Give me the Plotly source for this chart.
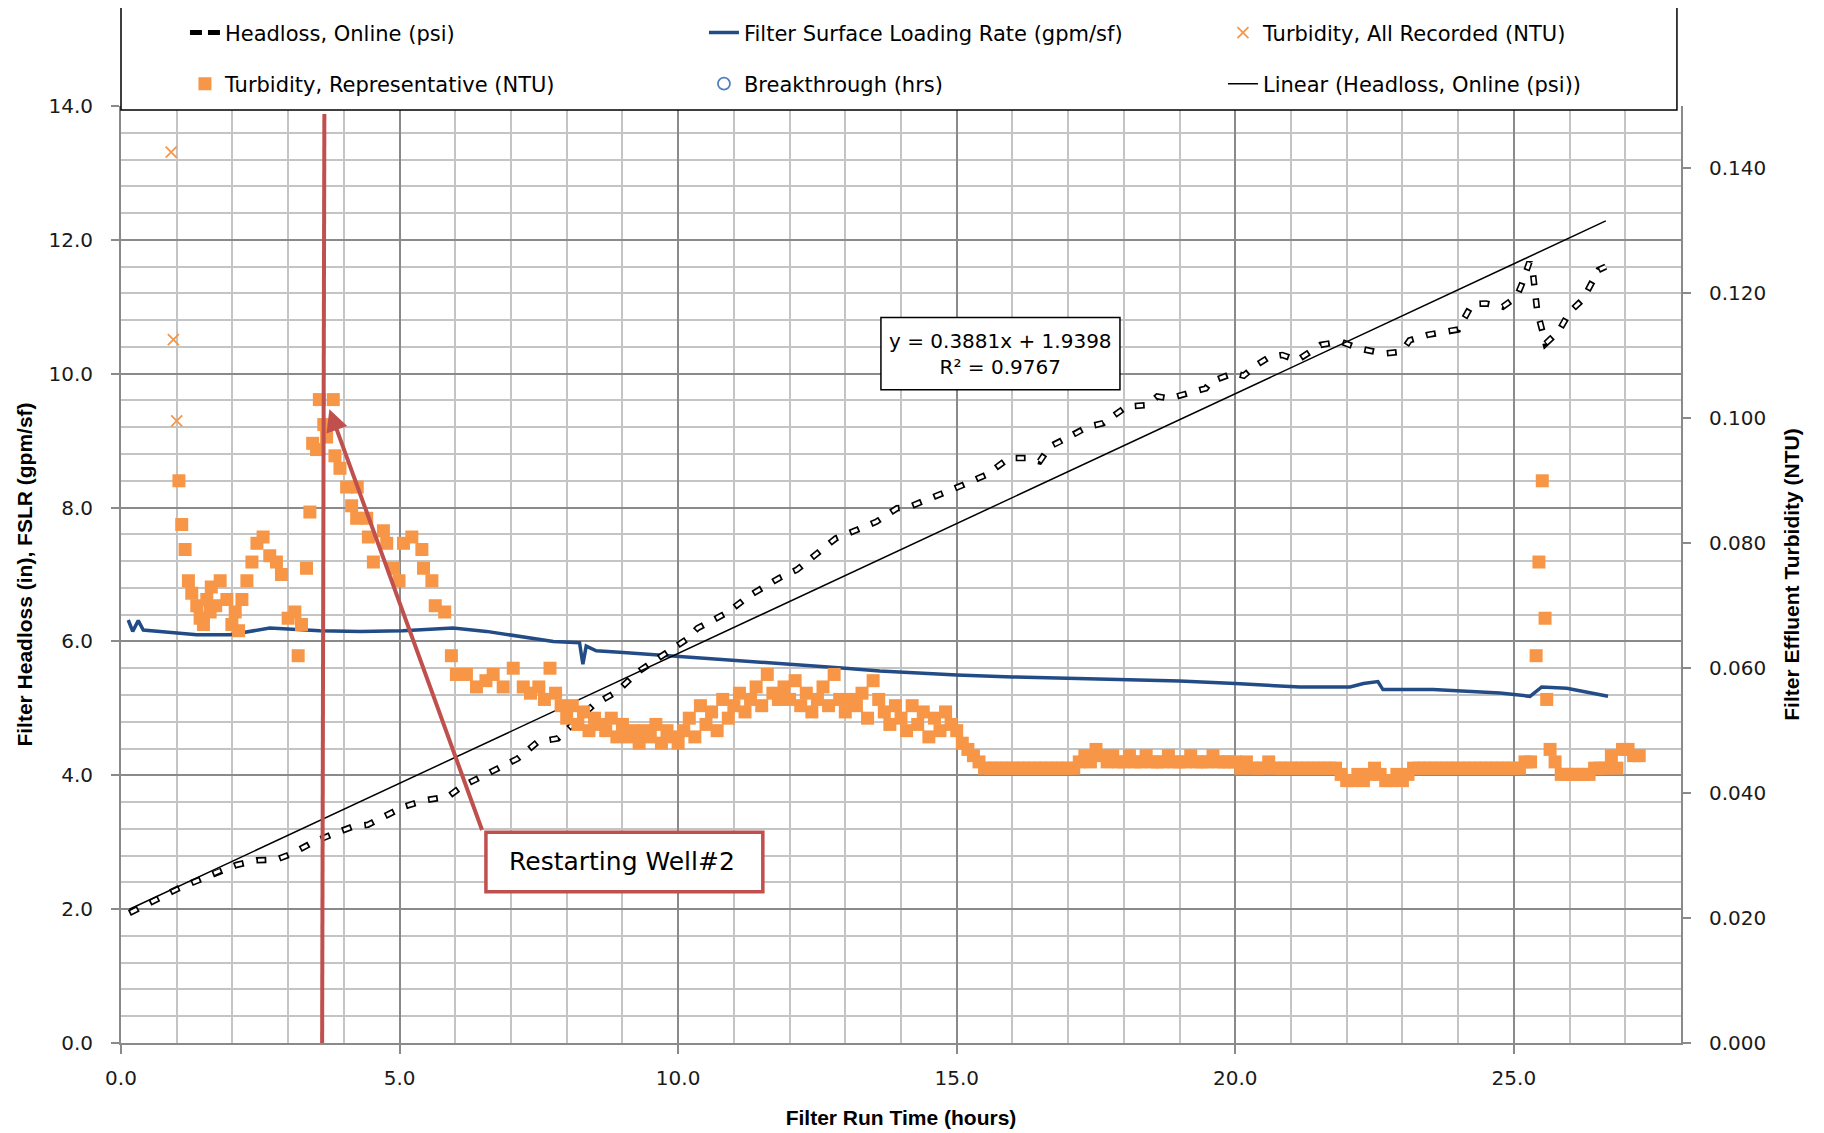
import plotly.graph_objects as go

# headloss (in) vs run time (h)
hl_hours = [0.15, 0.63, 1.03, 1.47, 1.79, 2.07, 2.43, 2.79, 3.07, 3.47, 3.83, 4.15, 4.43, 4.67,
            5.07, 5.47, 5.87, 6.11, 6.47, 6.79, 7.12, 7.48, 7.84, 8.48, 8.90, 9.27, 9.58, 9.83,
            10.15, 10.35, 10.88, 11.29, 11.82, 12.13, 12.42, 12.83, 13.19, 13.56, 13.93, 14.15,
            14.38, 14.75, 15.12, 15.53, 15.94, 16.26, 16.49, 16.67, 16.99, 17.36, 17.63, 18.05,
            18.41, 18.60, 18.82, 19.15, 19.47, 19.56, 19.97, 20.15, 20.38, 20.61, 20.84, 21.11,
            21.53, 21.89, 22.21, 22.44, 22.67, 22.99, 23.13, 23.45, 23.72, 24.00, 24.25, 24.50,
            24.80, 25.05, 25.14, 25.28, 25.34, 25.42, 25.57, 25.80, 26.01, 26.24, 26.52, 26.65]
hl_values = [1.94, 2.14, 2.31, 2.46, 2.58, 2.66, 2.73, 2.74, 2.83, 3.01, 3.13, 3.23, 3.26, 3.36,
             3.53, 3.63, 3.68, 3.83, 3.98, 4.10, 4.25, 4.50, 4.55, 5.05, 5.25, 5.54, 5.71, 5.85,
             6.03, 6.20, 6.43, 6.69, 6.95, 7.07, 7.27, 7.54, 7.66, 7.79, 7.99, 8.01,
             8.09, 8.21, 8.34, 8.49, 8.74, 8.74, 8.69, 8.91, 9.04, 9.21, 9.26, 9.51,
             9.53, 9.66, 9.63, 9.71, 9.78, 9.88, 10.01, 9.97, 10.13, 10.25, 10.28, 10.20,
             10.43, 10.48, 10.38, 10.34, 10.30, 10.33, 10.50, 10.58, 10.63, 10.66, 11.04, 11.05,
             11.00, 11.15, 11.33, 11.67, 11.52, 10.93, 10.45, 10.63, 10.93, 11.11, 11.55, 11.60]

# linear trendline of headloss (Excel)
trend_slope = 0.3881
trend_intercept = 1.9398
trend_r2 = 0.9767

# filter surface loading rate (gpm/sf)
fslr_hours = [0.13, 0.21, 0.31, 0.40, 0.8, 1.36, 1.96, 2.67, 3.57, 4.3, 5.06, 5.96, 6.56, 7.16,
              7.76, 8.23, 8.29, 8.35, 8.53, 8.95, 10.0, 11.0, 12.19, 13.0, 13.62, 15.0, 16.0,
              17.66, 19.0, 20.0, 21.16, 22.06, 22.30, 22.56, 22.65, 23.55, 24.75, 25.29, 25.50,
              25.95, 26.24, 26.69]
fslr_values = [6.32, 6.15, 6.31, 6.17, 6.14, 6.10, 6.10, 6.20, 6.16, 6.15, 6.16, 6.20, 6.15, 6.07,
               6.00, 5.98, 5.66, 5.93, 5.86, 5.84, 5.78, 5.72, 5.65, 5.60, 5.56, 5.50, 5.47,
               5.44, 5.41, 5.37, 5.32, 5.32, 5.37, 5.40, 5.28, 5.28, 5.23, 5.18, 5.32,
               5.30, 5.25, 5.18]

# turbidity, all recorded (NTU) - only the readings not covered by representative points
tall_hours = [0.90, 0.94, 1.00]
tall_ntu = [0.1426, 0.1126, 0.0996]

# turbidity, representative (NTU)
trep_hours = [
    1.04, 1.09, 1.15, 1.21, 1.27, 1.36, 1.42, 1.48, 1.54, 1.60, 1.62, 1.70, 1.78, 1.90, 1.99,
    2.05, 2.11, 2.17, 2.26, 2.35, 2.44, 2.55, 2.67, 2.79, 2.88, 3.00, 3.12, 3.18, 3.24, 3.33,
    3.39, 3.44, 3.51, 3.56, 3.64, 3.69, 3.81, 3.84, 3.93, 4.05, 4.14, 4.23, 4.24, 4.41, 4.44,
    4.53, 4.71, 4.77, 4.89, 4.99, 5.07, 5.22, 5.40, 5.43, 5.58, 5.64, 5.81, 5.93, 6.02, 6.20,
    6.38, 6.55, 6.68, 6.86, 7.04, 7.22, 7.35,
    7.5, 7.6, 7.7, 7.8, 7.9,
    8.0, 8.1, 8.2, 8.3, 8.4, 8.5, 8.6, 8.7, 8.8, 8.9,
    9.0, 9.1, 9.2, 9.3, 9.4, 9.5, 9.6, 9.7, 9.8, 9.9,
    10.0, 10.1, 10.2, 10.3, 10.4, 10.5, 10.6, 10.7, 10.8, 10.9,
    11.0, 11.1, 11.2, 11.3, 11.4, 11.5, 11.6, 11.7, 11.8, 11.9,
    12.0, 12.1, 12.2, 12.3, 12.4, 12.5, 12.6, 12.7, 12.8, 12.9,
    13.0, 13.1, 13.2, 13.3, 13.4, 13.5, 13.6, 13.7, 13.8, 13.9,
    14.0, 14.1, 14.2, 14.3, 14.4, 14.5, 14.6, 14.7, 14.8, 14.9,
    15.0, 15.1, 15.2, 15.3, 15.4, 15.5, 15.6, 15.7, 15.8, 15.9,
    16.0, 16.1, 16.2, 16.3, 16.4, 16.5, 16.6, 16.7, 16.8, 16.9,
    17.0, 17.1, 17.2, 17.3, 17.4, 17.5, 17.6, 17.7, 17.8, 17.9,
    18.0, 18.1, 18.2, 18.3, 18.4, 18.5, 18.6, 18.7, 18.8, 18.9,
    19.0, 19.1, 19.2, 19.3, 19.4, 19.5, 19.6, 19.7, 19.8, 19.9,
    20.0, 20.1, 20.2, 20.3, 20.4, 20.5, 20.6, 20.7, 20.8, 20.9,
    21.0, 21.1, 21.2, 21.3, 21.4, 21.5, 21.6, 21.7, 21.8, 21.9,
    22.0, 22.1, 22.2, 22.3, 22.4, 22.5, 22.6, 22.7, 22.8, 22.9,
    23.0, 23.1, 23.2, 23.3, 23.4, 23.5, 23.6, 23.7, 23.8, 23.9,
    24.0, 24.1, 24.2, 24.3, 24.4, 24.5, 24.6, 24.7, 24.8, 24.9,
    25.0, 25.1, 25.2, 25.3,
    25.40, 25.45, 25.51, 25.56, 25.59, 25.65, 25.74, 25.85, 25.95, 26.05, 26.15, 26.25,
    26.35, 26.45, 26.55, 26.65, 26.75, 26.85, 26.95, 27.05, 27.15, 27.25]
trep_ntu = [
    0.090, 0.083, 0.079, 0.074, 0.072, 0.070, 0.068, 0.067, 0.071, 0.069, 0.073, 0.070, 0.074, 0.071, 0.067,
    0.069, 0.066, 0.071, 0.074, 0.077, 0.080, 0.081, 0.078, 0.077, 0.075, 0.068, 0.069, 0.062, 0.067, 0.076,
    0.085, 0.096, 0.095, 0.103, 0.099, 0.097, 0.103, 0.094, 0.092, 0.089, 0.086, 0.084, 0.089, 0.084, 0.081,
    0.077, 0.082, 0.080, 0.076, 0.074, 0.080, 0.081, 0.079, 0.076, 0.074, 0.070, 0.069, 0.062, 0.059, 0.059,
    0.057, 0.058, 0.059, 0.057, 0.060, 0.057, 0.056,
    0.057, 0.055, 0.060, 0.056, 0.054,
    0.052, 0.054, 0.051, 0.053, 0.050, 0.052, 0.051, 0.050, 0.052, 0.049,
    0.051, 0.049, 0.050, 0.048, 0.050, 0.049, 0.051, 0.048, 0.050, 0.049,
    0.048, 0.050, 0.052, 0.049, 0.054, 0.051, 0.053, 0.050, 0.055, 0.052,
    0.054, 0.056, 0.053, 0.055, 0.057, 0.054, 0.059, 0.056, 0.055, 0.057,
    0.055, 0.058, 0.054, 0.056, 0.053, 0.055, 0.057, 0.054, 0.059, 0.055,
    0.053, 0.055, 0.054, 0.056, 0.052, 0.058, 0.055, 0.053, 0.051, 0.054,
    0.052, 0.050, 0.054, 0.051, 0.053, 0.049, 0.052, 0.050, 0.053, 0.051,
    0.050, 0.048, 0.047, 0.046, 0.045, 0.044, 0.044, 0.044, 0.044, 0.044,
    0.044, 0.044, 0.044, 0.044, 0.044, 0.044, 0.044, 0.044, 0.044, 0.044,
    0.044, 0.044, 0.045, 0.046, 0.045, 0.047, 0.046, 0.045, 0.046, 0.045,
    0.045, 0.046, 0.045, 0.045, 0.046, 0.045, 0.045, 0.045, 0.046, 0.045,
    0.045, 0.045, 0.046, 0.045, 0.045, 0.045, 0.046, 0.045, 0.045, 0.045,
    0.045, 0.044, 0.045, 0.044, 0.044, 0.044, 0.045, 0.044, 0.044, 0.044,
    0.044, 0.044, 0.044, 0.044, 0.044, 0.044, 0.044, 0.044, 0.044, 0.043,
    0.042, 0.042, 0.043, 0.042, 0.043, 0.044, 0.043, 0.042, 0.042, 0.043,
    0.042, 0.043, 0.044, 0.044, 0.044, 0.044, 0.044, 0.044, 0.044, 0.044,
    0.044, 0.044, 0.044, 0.044, 0.044, 0.044, 0.044, 0.044, 0.044, 0.044,
    0.044, 0.044, 0.045, 0.045,
    0.062, 0.077, 0.090, 0.068, 0.055, 0.047, 0.045, 0.043, 0.043, 0.043, 0.043, 0.043,
    0.043, 0.044, 0.044, 0.044, 0.046, 0.044, 0.047, 0.047, 0.046, 0.046]

# event marker: restarting well #2
restart_hour = 3.63

ORANGE = "#F79646"
RED = "#C0504D"
NAVY = "#234C86"
FONT = "DejaVu Sans"

fig = go.Figure()

# legend row 1
fig.add_trace(go.Scatter(x=[None], y=[None], mode="lines", name="Headloss, Online (psi)",
                         line=dict(color="black", width=5, dash="12px,6px"), legend="legend"))
fig.add_trace(go.Scatter(x=fslr_hours, y=fslr_values, mode="lines", name="Filter Surface Loading Rate (gpm/sf)",
                         line=dict(color=NAVY, width=3.5), legend="legend"))
fig.add_trace(go.Scatter(x=tall_hours, y=tall_ntu, mode="markers", yaxis="y2", name="Turbidity, All Recorded (NTU)",
                         marker=dict(symbol="x-thin", size=11, color=ORANGE, line=dict(color=ORANGE, width=1.8)),
                         legend="legend"))

# headloss drawn as outlined dashes
fig.add_trace(go.Scatter(x=hl_hours, y=hl_values, mode="lines", showlegend=False,
                         line=dict(color="black", width=6.5, dash="10px,13px")))
fig.add_trace(go.Scatter(x=hl_hours, y=hl_values, mode="lines", showlegend=False,
                         line=dict(color="white", width=3.2, dash="0px,1.7px,6.6px,14.7px")))

# legend row 2
fig.add_trace(go.Scatter(x=trep_hours, y=trep_ntu, mode="markers", yaxis="y2",
                         name="Turbidity, Representative (NTU)",
                         marker=dict(symbol="square", size=13, color=ORANGE), legend="legend2"))
fig.add_trace(go.Scatter(x=[None], y=[None], mode="markers", name="Breakthrough (hrs)",
                         marker=dict(symbol="circle-open", size=12, color="#4F81BD",
                                     line=dict(color="#4F81BD", width=1.8)),
                         legend="legend2"))
trend_x = [hl_hours[0], hl_hours[-1]]
trend_y = [trend_slope * v + trend_intercept for v in trend_x]
fig.add_trace(go.Scatter(x=trend_x, y=trend_y, mode="lines", name="Linear (Headloss, Online (psi))",
                         line=dict(color="black", width=1.5), legend="legend2"))

grid_minor = "#C4C4C4"
grid_major = "#8A8A8A"
tickfont = dict(family=FONT, size=20, color="#1a1a1a")
titlefont = dict(family="Liberation Sans", size=21, color="black", weight="bold")
legfont = dict(family=FONT, size=21, color="black")

# page body has an 8px offset, margins compensate
fig.update_layout(
    width=1824, height=1133,
    margin=dict(l=113, r=151, t=98, b=98, autoexpand=False),
    paper_bgcolor="white", plot_bgcolor="white",
    xaxis=dict(range=[0, 28], dtick=5, tickformat=".1f", showgrid=True, gridcolor=grid_major, gridwidth=2,
               minor=dict(dtick=1, showgrid=True, gridcolor=grid_minor, gridwidth=2),
               showline=True, linecolor=grid_major, linewidth=2, ticks="outside", ticklen=9,
               tickcolor=grid_major, tickwidth=2, ticklabelstandoff=7, tickfont=tickfont,
               zeroline=False, automargin=False,
               title=dict(text="Filter Run Time (hours)", font=titlefont, standoff=21)),
    yaxis=dict(range=[0, 14], dtick=2, tickformat=".1f", showgrid=True, gridcolor=grid_major, gridwidth=2,
               minor=dict(dtick=0.4, showgrid=True, gridcolor=grid_minor, gridwidth=2),
               showline=True, linecolor=grid_major, linewidth=2, ticks="outside", ticklen=8,
               tickcolor=grid_major, tickwidth=2, ticklabelstandoff=14, tickfont=tickfont,
               zeroline=False, automargin=False,
               title=dict(text="Filter Headloss (in), FSLR (gpm/sf)", font=titlefont, standoff=10)),
    yaxis2=dict(range=[0, 0.15], dtick=0.02, tickformat=".3f", overlaying="y", side="right",
                showgrid=False, showline=True, linecolor=grid_major, linewidth=2, ticks="outside",
                ticklen=8, tickcolor=grid_major, tickwidth=2, ticklabelstandoff=14, tickfont=tickfont,
                zeroline=False, automargin=False,
                title=dict(text="Filter Effluent Turbidity (NTU)", font=titlefont, standoff=19)),
    legend=dict(orientation="h", x=0.041, xanchor="left", y=1.078, yanchor="middle",
                entrywidth=474, entrywidthmode="pixels", bgcolor="rgba(0,0,0,0)", font=legfont),
    legend2=dict(orientation="h", x=0.041, xanchor="left", y=1.0235, yanchor="middle",
                 entrywidth=474, entrywidthmode="pixels", bgcolor="rgba(0,0,0,0)", font=legfont),
    showlegend=True,
)

# legend frame
fig.add_shape(type="rect", xref="paper", yref="paper", x0=0, x1=0.9974, y0=0.9957, y1=1.1057,
              line=dict(color="black", width=1.5), fillcolor="white", layer="above")

# restart marker line
fig.add_shape(type="line", x0=restart_hour + 0.02, x1=restart_hour - 0.02, y0=13.88, y1=0,
              line=dict(color=RED, width=4), layer="above")

# callout box + arrow
fig.add_shape(type="rect", x0=6.55, x1=11.52, y0=2.26, y1=3.15,
              line=dict(color=RED, width=3.5), fillcolor="white", layer="above")
fig.add_annotation(x=6.93, y=2.705, xanchor="left", yanchor="middle", showarrow=False,
                   text="Restarting Well#2", font=dict(family=FONT, size=25, color="black"))
fig.add_annotation(x=restart_hour + 0.11, y=9.47, ax=6.49, ay=3.16, axref="x", ayref="y",
                   text="", showarrow=True, arrowhead=2, arrowsize=1.1, arrowwidth=4, arrowcolor=RED)

# trendline equation box
fig.add_shape(type="rect", x0=13.64, x1=17.93, y0=9.76, y1=10.84,
              line=dict(color="black", width=1.5), fillcolor="white", layer="above")
fig.add_annotation(x=15.785, y=10.3, showarrow=False, align="center",
                   text=f"y = {trend_slope}x + {trend_intercept}<br>R² = {trend_r2}",
                   font=dict(family=FONT, size=20, color="black"))

fig.write_html("out.html")
